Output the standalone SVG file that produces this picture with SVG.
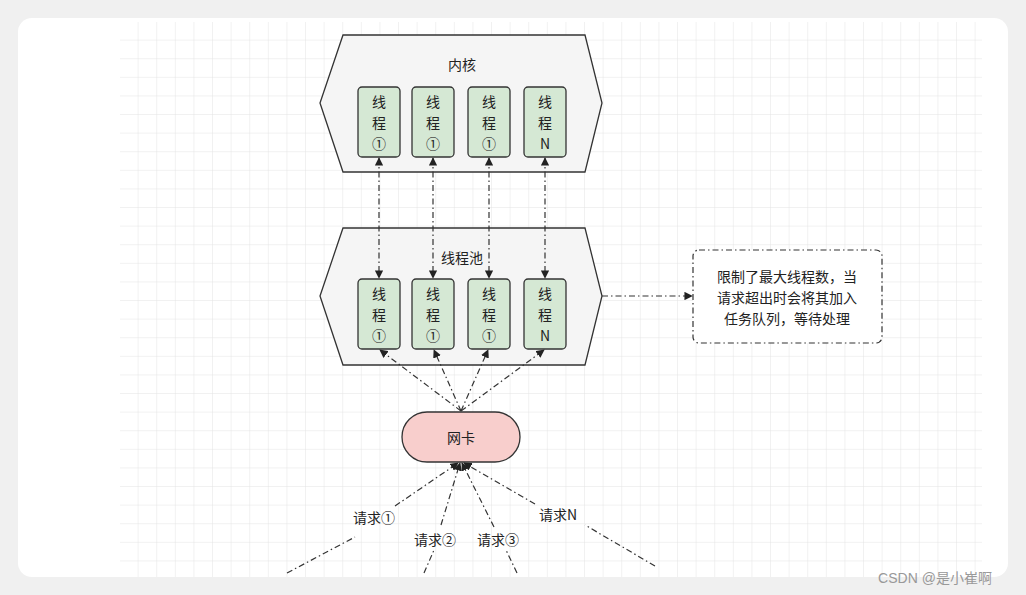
<svg xmlns="http://www.w3.org/2000/svg" width="1026" height="595" viewBox="0 0 1026 595">
<defs>
<pattern id="g" width="18.6" height="18.6" patternUnits="userSpaceOnUse" x="120" y="22"><path d="M18.6 0V18.6H0" fill="none" stroke="#e4e4e4" stroke-width="1"/></pattern>
<marker id="a" viewBox="0 0 10 10" refX="9" refY="5" markerWidth="7" markerHeight="7" orient="auto-start-reverse"><path d="M0 0L10 5L0 10z" fill="#222"/></marker>
<style>
.hex{fill:#f5f5f5;stroke:#333;stroke-width:1.3}
.th{fill:#d5e8d4;stroke:#333;stroke-width:1.3}
.t{font-family:"Noto Sans CJK SC","Liberation Sans",sans-serif;font-size:14px;fill:#222;text-anchor:middle}
.c{fill:none;stroke:#333;stroke-width:1.2;stroke-dasharray:6 3 1.5 3}
</style>
</defs>
<rect width="1026" height="595" fill="#f0f0f0"/>
<rect x="18" y="18" width="990" height="559" rx="14" fill="#fff"/>
<rect x="120" y="22" width="862" height="555" fill="url(#g)"/>
<g id="kernel">
<polygon class="hex" points="343,35 585,35 602,103 585,172 343,172 320,103"/>
<text class="t" x="462" y="70">内核</text>
</g>
<g id="pool">
<polygon class="hex" points="343,228 585,228 602,296 585,365 343,365 320,296"/>
<text class="t" x="462" y="263">线程池</text>
</g>
<g id="k1"><rect class="th" x="358" y="87" width="42" height="70" rx="4"/><text class="t" x="379" y="107">线</text><text class="t" x="379" y="128">程</text><text class="t" x="379" y="149">①</text></g>
<g id="k2"><rect class="th" x="412" y="87" width="42" height="70" rx="4"/><text class="t" x="433" y="107">线</text><text class="t" x="433" y="128">程</text><text class="t" x="433" y="149">①</text></g>
<g id="k3"><rect class="th" x="468" y="87" width="42" height="70" rx="4"/><text class="t" x="489" y="107">线</text><text class="t" x="489" y="128">程</text><text class="t" x="489" y="149">①</text></g>
<g id="k4"><rect class="th" x="524" y="87" width="42" height="70" rx="4"/><text class="t" x="545" y="107">线</text><text class="t" x="545" y="128">程</text><text class="t" x="545" y="149">N</text></g>
<g id="p1"><rect class="th" x="358" y="279" width="42" height="70" rx="4"/><text class="t" x="379" y="299">线</text><text class="t" x="379" y="320">程</text><text class="t" x="379" y="341">①</text></g>
<g id="p2"><rect class="th" x="412" y="279" width="42" height="70" rx="4"/><text class="t" x="433" y="299">线</text><text class="t" x="433" y="320">程</text><text class="t" x="433" y="341">①</text></g>
<g id="p3"><rect class="th" x="468" y="279" width="42" height="70" rx="4"/><text class="t" x="489" y="299">线</text><text class="t" x="489" y="320">程</text><text class="t" x="489" y="341">①</text></g>
<g id="p4"><rect class="th" x="524" y="279" width="42" height="70" rx="4"/><text class="t" x="545" y="299">线</text><text class="t" x="545" y="320">程</text><text class="t" x="545" y="341">N</text></g>
<g id="nic"><rect x="402" y="412" width="118" height="50" rx="25" fill="#f8cecc" stroke="#333" stroke-width="1.3"/><text class="t" x="461" y="443">网卡</text></g>
<g id="note"><rect x="693" y="250" width="189" height="93" rx="6" fill="#fff" stroke="#333" stroke-width="1.2" stroke-dasharray="6 3 1.5 3"/>
<text class="t" x="787" y="282">限制了最大线程数，当</text><text class="t" x="787" y="303">请求超出时会将其加入</text><text class="t" x="787" y="324">任务队列，等待处理</text></g>
<g id="connectors">
<line class="c" x1="379" y1="158" x2="379" y2="278" marker-start="url(#a)" marker-end="url(#a)"/>
<line class="c" x1="433" y1="158" x2="433" y2="278" marker-start="url(#a)" marker-end="url(#a)"/>
<line class="c" x1="489" y1="158" x2="489" y2="278" marker-start="url(#a)" marker-end="url(#a)"/>
<line class="c" x1="545" y1="158" x2="545" y2="278" marker-start="url(#a)" marker-end="url(#a)"/>
<line class="c" x1="461" y1="411" x2="380" y2="350" marker-end="url(#a)"/>
<line class="c" x1="461" y1="411" x2="434" y2="350" marker-end="url(#a)"/>
<line class="c" x1="461" y1="411" x2="488" y2="350" marker-end="url(#a)"/>
<line class="c" x1="461" y1="411" x2="544" y2="350" marker-end="url(#a)"/>
<line class="c" x1="602" y1="296" x2="692" y2="296" marker-end="url(#a)"/>
<path class="c" d="M287 573L355 537M395 506L458 463" marker-end="url(#a)"/>
<path class="c" d="M424 573L434 550M441 525L460 463" marker-end="url(#a)"/>
<path class="c" d="M517 573L506 550M494 527L462 463" marker-end="url(#a)"/>
<path class="c" d="M655 566L585 525M535 504L464 463" marker-end="url(#a)"/>
<text class="t" x="374" y="523">请求①</text>
<text class="t" x="435" y="545">请求②</text>
<text class="t" x="498" y="545">请求③</text>
<text class="t" x="558" y="520">请求N</text>
</g>
<text x="935" y="583" font-family="Liberation Sans,Noto Sans CJK SC,sans-serif" font-size="14" fill="#999" text-anchor="middle">CSDN @是小崔啊</text>
</svg>
